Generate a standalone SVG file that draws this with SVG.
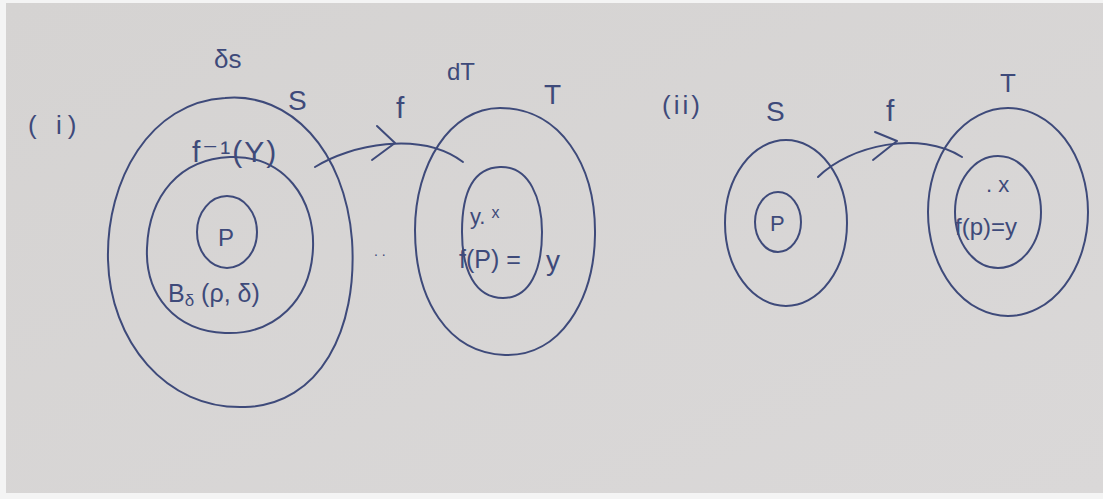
<svg xmlns="http://www.w3.org/2000/svg" width="1103" height="499" viewBox="0 0 1103 499">
  <style>
    .ink { fill: none; stroke: #3e4a7a; stroke-width: 2; stroke-linecap: round; stroke-linejoin: round; }
    .lbl { fill: #3e4a7a; font-family: "Liberation Sans", "DejaVu Sans", sans-serif; }
  </style>
  <defs>
    <linearGradient id="paper" x1="0" y1="0" x2="1" y2="1">
      <stop offset="0" stop-color="#d5d3d2"/>
      <stop offset="1" stop-color="#dad8d8"/>
    </linearGradient>
  </defs>

  <!-- sheet -->
  <rect x="0" y="0" width="1103" height="499" fill="#f4f4f4"/>
  <rect x="6" y="3" width="1097" height="490" fill="url(#paper)"/>

  <!-- part (i) -->
  <text class="lbl" x="28" y="134" font-size="26" letter-spacing="6">( i)</text>

  <g id="set-S1">
    <path class="ink" d="M 225 98 C 290 92, 345 150, 352 240 C 358 330, 320 405, 245 407 C 165 410, 110 340, 108 260 C 106 180, 150 102, 225 98 Z"/>
    <text class="lbl" x="214" y="68" font-size="26">δs</text>
    <text class="lbl" x="288" y="110" font-size="28">S</text>
  </g>

  <g id="preimage-Y">
    <path class="ink" d="M 230 157 C 285 155, 315 200, 313 248 C 311 300, 275 335, 225 333 C 175 331, 145 295, 147 248 C 149 195, 180 159, 230 157 Z"/>
    <text class="lbl" x="192" y="162" font-size="30" letter-spacing="2">f⁻¹(Y)</text>
    <text class="lbl" x="168" y="302" font-size="25">B<tspan font-size="17" dy="4">δ</tspan><tspan dy="-4"> (ρ, δ)</tspan></text>
  </g>

  <g id="point-P1">
    <ellipse class="ink" cx="227" cy="232" rx="30" ry="36"/>
    <text class="lbl" x="218" y="246" font-size="24">P</text>
  </g>

  <g id="set-T1">
    <path class="ink" d="M 500 108 C 560 108, 596 165, 595 235 C 594 300, 560 357, 505 355 C 448 353, 415 300, 415 230 C 415 165, 450 108, 500 108 Z"/>
    <text class="lbl" x="447" y="80" font-size="24">dT</text>
    <text class="lbl" x="544" y="104" font-size="28">T</text>
  </g>

  <g id="set-Y1">
    <path class="ink" d="M 500 167 C 530 166, 542 200, 542 232 C 542 270, 530 298, 503 298 C 475 298, 462 270, 462 232 C 462 195, 472 168, 500 167 Z"/>
    <text class="lbl" x="470" y="224" font-size="22">y. <tspan font-size="16" dy="-6">x</tspan></text>
    <text class="lbl" x="459" y="268" font-size="25">f(P) =</text>
    <text class="lbl" x="546" y="270" font-size="28">y</text>
  </g>

  <text class="lbl" x="374" y="256" font-size="14">. .</text>

  <!-- part (ii) -->
  <text class="lbl" x="662" y="114" font-size="26" letter-spacing="3">(ii)</text>

  <g id="set-S2">
    <ellipse class="ink" cx="786" cy="223" rx="61" ry="83"/>
    <text class="lbl" x="766" y="121" font-size="28">S</text>
  </g>

  <g id="point-P2">
    <ellipse class="ink" cx="778" cy="222" rx="23" ry="30"/>
    <text class="lbl" x="770" y="231" font-size="22">P</text>
  </g>

  <g id="set-T2">
    <ellipse class="ink" cx="1008" cy="212" rx="80" ry="104"/>
    <text class="lbl" x="1000" y="92" font-size="26">T</text>
  </g>

  <g id="set-Y2">
    <ellipse class="ink" cx="998" cy="212" rx="43" ry="56"/>
    <text class="lbl" x="986" y="192" font-size="22">. x</text>
    <text class="lbl" x="955" y="235" font-size="24">f(p)=y</text>
  </g>

  <!-- mappings f -->
  <g id="connectors">
    <path class="ink" d="M 315 167 C 350 145, 420 130, 463 162"/>
    <path class="ink" d="M 377 126 L 395 143 L 372 160"/>
    <text class="lbl" x="396" y="118" font-size="30">f</text>

    <path class="ink" d="M 818 177 C 850 145, 920 130, 962 157"/>
    <path class="ink" d="M 875 132 L 897 141 L 873 160"/>
    <text class="lbl" x="886" y="121" font-size="30">f</text>
  </g>
</svg>
